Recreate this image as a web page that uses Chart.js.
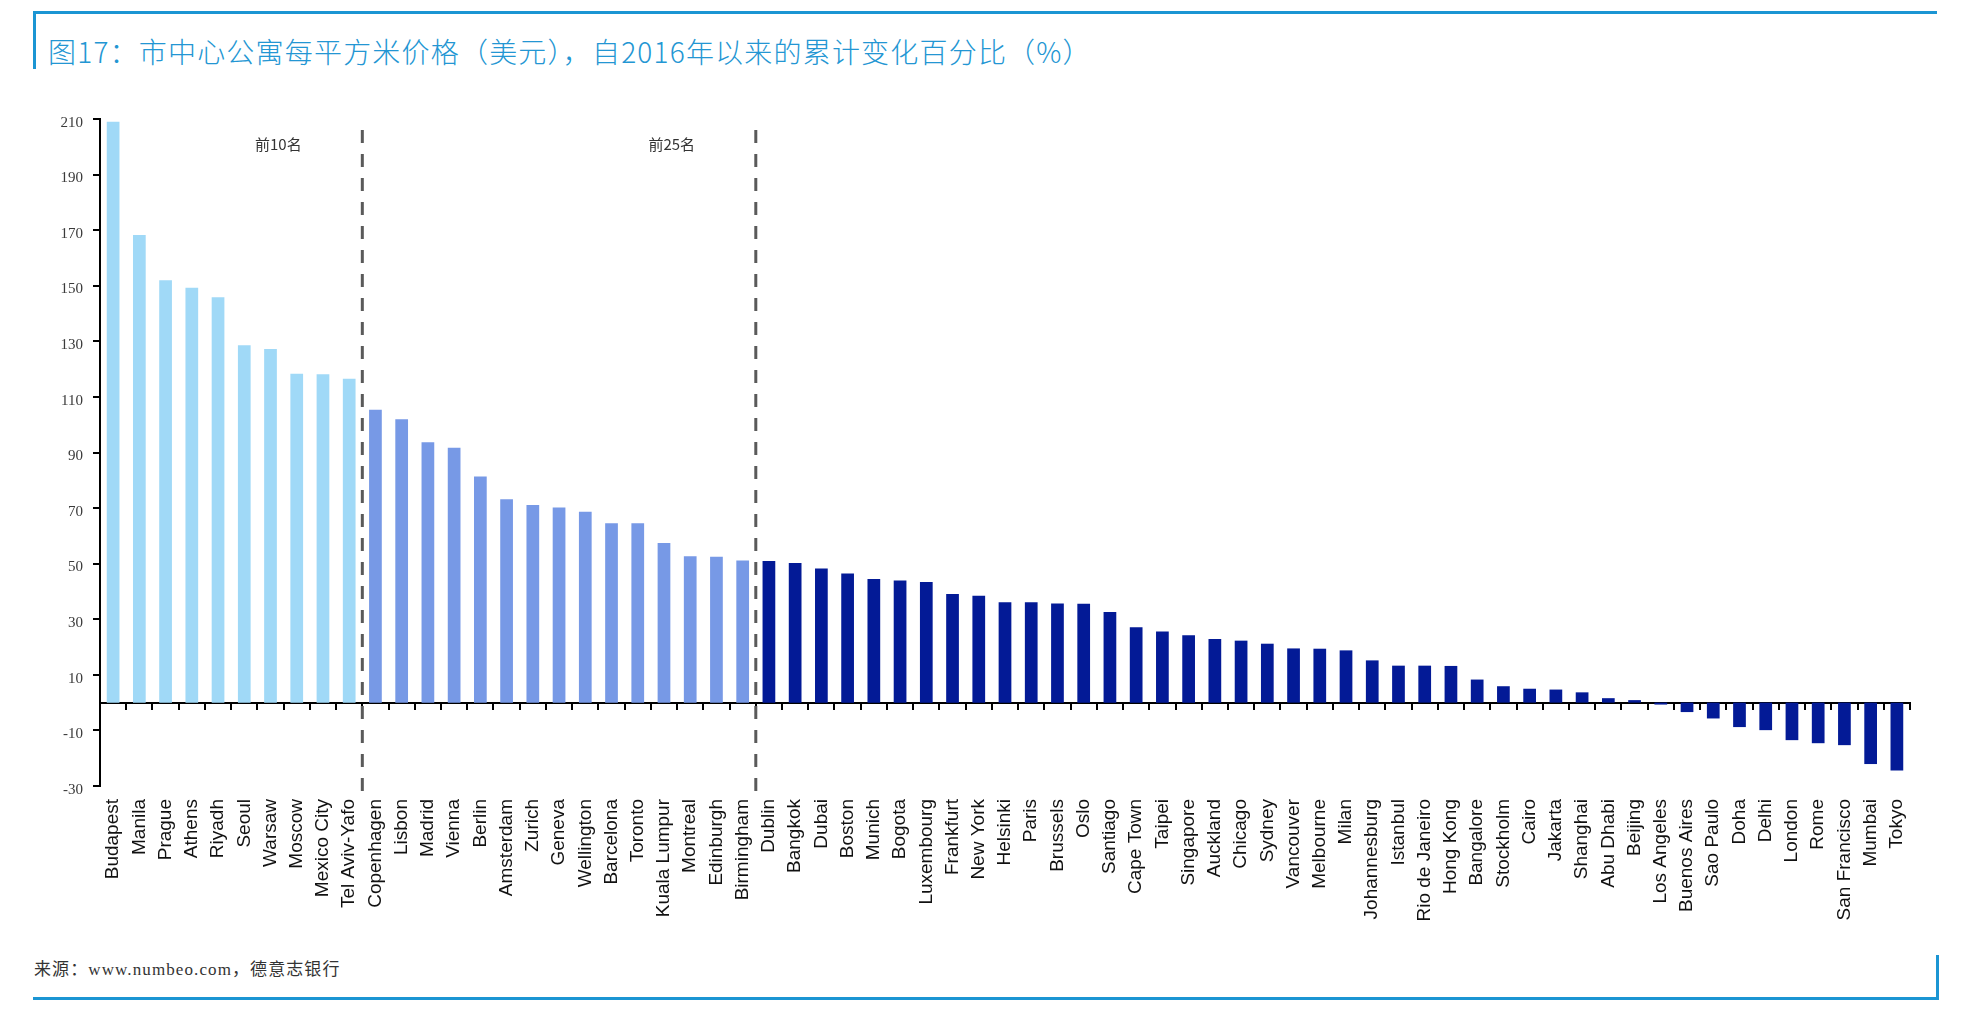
<!DOCTYPE html>
<html>
<head>
<meta charset="utf-8">
<script src="https://cdn.jsdelivr.net/npm/chart.js@4.4.0/dist/chart.umd.min.js"></script>
<style>
  body { margin: 0; width: 1969px; height: 1033px; background: #fff; position: relative; overflow: hidden; font-family: "Noto Sans CJK SC", sans-serif; }
  .rule { position: absolute; background: #1b95d3; }
  #title { position: absolute; left: 48px; top: 34px; font-size: 28px; font-weight: 300; letter-spacing: 1.2px; line-height: 34px; color: #2396d3; white-space: nowrap; }
  #source { position: absolute; left: 34px; top: 959px; font-size: 17px; letter-spacing: 1.1px; line-height: 22px; color: #333; font-family: "Liberation Serif", "Noto Sans CJK SC", serif; white-space: nowrap; }
  #chartBox { position: absolute; left: 0; top: 90px; width: 1969px; height: 850px; }
</style>
</head>
<body>
<div class="rule" style="left:33px;top:11px;width:1904px;height:3px"></div>
<div class="rule" style="left:33px;top:11px;width:3px;height:58px"></div>
<div id="title">图17：市中心公寓每平方米价格（美元），自2016年以来的累计变化百分比（%）</div>
<div id="chartBox"><canvas id="priceChart" width="1969" height="850"></canvas></div>
<div id="source">来源：www.numbeo.com，德意志银行</div>
<div class="rule" style="left:33px;top:997px;width:1906px;height:3px"></div>
<div class="rule" style="left:1936px;top:955px;width:3px;height:45px"></div>
<script>
// cities sorted by cumulative change since 2016
const cities = [
  "Budapest", "Manila", "Prague", "Athens", "Riyadh", "Seoul", "Warsaw", "Moscow", "Mexico City", "Tel Aviv-Yafo",
  "Copenhagen", "Lisbon", "Madrid", "Vienna", "Berlin", "Amsterdam", "Zurich", "Geneva", "Wellington", "Barcelona",
  "Toronto", "Kuala Lumpur", "Montreal", "Edinburgh", "Birmingham",
  "Dublin", "Bangkok", "Dubai", "Boston", "Munich", "Bogota", "Luxembourg", "Frankfurt", "New York", "Helsinki",
  "Paris", "Brussels", "Oslo", "Santiago", "Cape Town", "Taipei", "Singapore", "Auckland", "Chicago", "Sydney",
  "Vancouver", "Melbourne", "Milan", "Johannesburg", "Istanbul", "Rio de Janeiro", "Hong Kong", "Bangalore",
  "Stockholm", "Cairo", "Jakarta", "Shanghai", "Abu Dhabi", "Beijing", "Los Angeles", "Buenos Aires", "Sao Paulo",
  "Doha", "Delhi", "London", "Rome", "San Francisco", "Mumbai", "Tokyo"
];
const changes = [
  209, 168.3, 152, 149.3, 145.9, 128.6, 127.2, 118.3, 118.2, 116.5,
  105.4, 102, 93.7, 91.7, 81.4, 73.2, 71.1, 70.2, 68.7, 64.5,
  64.5, 57.4, 52.7, 52.5, 51.1,
  51.0, 50.2, 48.3, 46.5, 44.5, 43.9, 43.4, 39.1, 38.5, 36.1,
  36.1, 35.7, 35.6, 32.6, 27.1, 25.6, 24.2, 22.9, 22.3, 21.2,
  19.5, 19.4, 18.8, 15.2, 13.3, 13.3, 13.2, 8.3,
  5.9, 5.0, 4.7, 3.7, 1.6, 0.9, -0.7, -3.4, -5.7,
  -8.8, -9.9, -13.5, -14.6, -15.3, -22.1, -24.4
];
// rank cut-offs and their captions
const rankCuts = [10, 25];
const rankNames = ["前10名", "前25名"];
const rankColors = ["#a0d9f7", "#7799e6", "#031a96"];

const barColors = changes.map(function (v, i) {
  if (i < rankCuts[0]) return rankColors[0];
  if (i < rankCuts[1]) return rankColors[1];
  return rankColors[2];
});

// dashed separators between the rank groups
const rankLines = {
  id: "rankLines",
  afterDatasetsDraw(chart) {
    const { ctx, chartArea, scales } = chart;
    ctx.save();
    rankCuts.forEach((n, i) => {
      const lx = (scales.x.getPixelForValue(n - 1) + scales.x.getPixelForValue(n)) / 2;
      ctx.strokeStyle = "#5a5a5a";
      ctx.lineWidth = 3;
      ctx.setLineDash([13, 11]);
      ctx.beginPath();
      ctx.moveTo(lx, chartArea.top + 11);
      ctx.lineTo(lx, chartArea.bottom + 14);
      ctx.stroke();
      ctx.fillStyle = "#333";
      ctx.font = '15px "Noto Sans CJK SC"';
      ctx.textAlign = "center";
      ctx.textBaseline = "middle";
      ctx.fillText(rankNames[i], lx - 84, chartArea.top + 25);
    });
    ctx.restore();
  }
};

new Chart(document.getElementById("priceChart"), {
  type: "bar",
  data: {
    labels: cities,
    datasets: [{
      data: changes,
      backgroundColor: barColors,
      borderWidth: 0,
      barPercentage: 0.485,
      categoryPercentage: 1
    }]
  },
  options: {
    responsive: false,
    animation: false,
    layout: { padding: { top: 29, right: 59, bottom: 0, left: 0 } },
    plugins: { legend: { display: false }, tooltip: { enabled: false } },
    scales: {
      x: {
        position: "bottom",
        offset: true,
        grid: { display: false, drawTicks: false },
        border: { display: false },
        ticks: {
          autoSkip: false, maxRotation: 90, minRotation: 90, padding: 13, color: "#111",
          font: { family: "Liberation Sans", size: 19 }
        },
        afterFit: function (s) { s.height = 154; }
      },
      zero: {
        type: "category",
        axis: "x",
        position: { y: 0 },
        offset: true,
        grid: { offset: true, drawOnChartArea: false, drawTicks: true, tickLength: 6, color: "#000", lineWidth: 2 },
        border: { display: true, color: "#000", width: 2 },
        ticks: { display: false }
      },
      y: {
        min: -30,
        max: 210,
        ticks: {
          stepSize: 20, padding: 10, color: "#3a3a3a",
          font: { family: "Liberation Serif", size: 15, lineHeight: 0.5 },
          // blank first line nudges the number a few px below its tick, as in the original
          callback: function (v) { return ["", String(v)]; }
        },
        grid: { drawOnChartArea: false, drawTicks: true, tickLength: 7, color: "#000", lineWidth: 2 },
        border: { color: "#000", width: 2 },
        afterFit: function (s) { s.width = 100; }
      }
    }
  },
  plugins: [rankLines]
});
</script>
</body>
</html>
